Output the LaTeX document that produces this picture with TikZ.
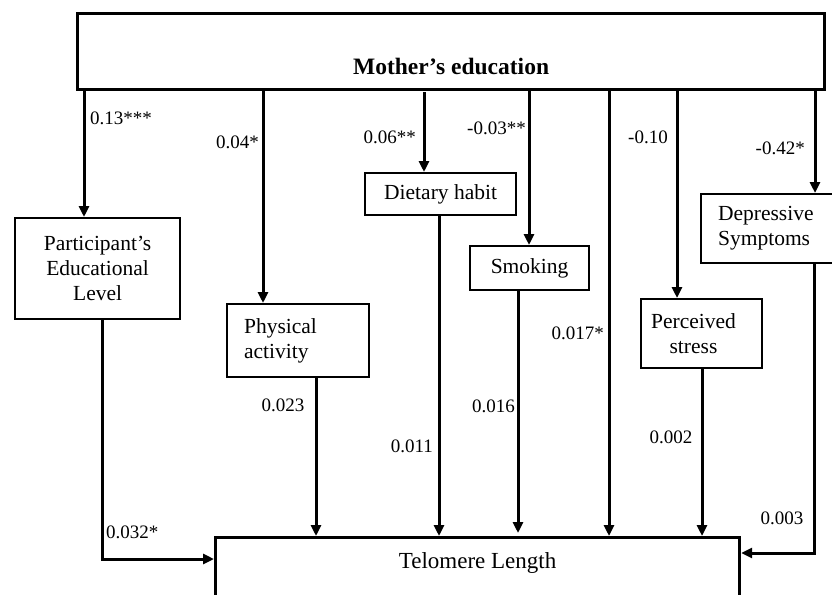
\documentclass[tikz,border=0pt]{standalone}
\usepackage{fontspec}
\setmainfont{Liberation Serif}
\usetikzlibrary{arrows.meta}
\newcommand{\linethick}{3pt}
\newcommand{\boxthick}{2.2pt}
\newcommand{\boxfont}{\fontsize{21.5}{25}\selectfont}
\newcommand{\coeffont}{\fontsize{19}{22}\selectfont}

\begin{document}
\begin{tikzpicture}[x=1pt,y=-1pt,
  box/.style={draw,line width=\boxthick,anchor=north west,inner sep=0pt,font=\boxfont,align=center},
  arr/.style={line width=\linethick,-{Triangle[length=11pt,width=10pt]}},
  coef/.style={font=\coeffont,inner sep=0pt}]
\useasboundingbox (0,0) rectangle (832,594);
\clip (0,0) rectangle (832,594);
%boxes
\node[box,line width=3.2pt,minimum width=747pt,text height=61pt,text depth=15pt,font=\fontsize{23.5}{28}\selectfont\bfseries] (me) at (76,12) {Mother's education};
\node[box,minimum width=165pt,minimum height=101pt] (pel) at (14,217) {Participant's\\Educational\\Level};
\node[box,minimum width=142pt,minimum height=73pt,text width=108pt,inner xsep=17pt,align=left] (pa) at (226,303) {Physical\\activity};
\node[box,minimum width=151pt,minimum height=42pt] (dh) at (364,172) {Dietary habit};
\node[box,minimum width=119pt,minimum height=44pt] (sm) at (469,245) {Smoking};
\node[box,minimum width=121pt,minimum height=69pt,text width=101pt,inner xsep=10pt,align=left] (ps) at (640,298) {Perceived\\\hspace*{18.5pt}stress};
\node[box,minimum width=140pt,minimum height=69pt,text width=106pt,inner xsep=17pt,align=left] (ds) at (700,193) {Depressive\\Symptoms};
\node[box,line width=3.2pt,minimum width=524pt,text height=31pt,text depth=53pt,font=\fontsize{23}{27}\selectfont] (tl) at (214,536) {Telomere Length};
%mother's education to mediators
\coordinate (m1) at (84,88);
\coordinate (m2) at (263,88);
\coordinate (m3) at (424,92);
\coordinate (m4) at (529,88);
\coordinate (m5) at (609,88);
\coordinate (m6) at (677,88);
\coordinate (m7) at (815,88);
\draw[arr] (m1) -- (m1 |- pel.north);
\draw[arr] (m2) -- (m2 |- pa.north);
\draw[arr] (m3) -- (m3 |- dh.north);
\draw[arr] (m4) -- (m4 |- sm.north);
\draw[arr] (m5) -- (m5 |- tl.north);
\draw[arr] (m6) -- (m6 |- ps.north);
\draw[arr] (m7) -- (m7 |- ds.north);
\node[coef,anchor=west] (k1) at (90,118) {0.13***};
\node[coef,anchor=east] (k2) at (259,142) {0.04*};
\node[coef,anchor=east] (k3) at (416,137) {0.06**};
\node[coef,anchor=east] (k4) at (526,128) {-0.03**};
\node[coef,anchor=east] (k5) at (604,333) {0.017*};
\node[coef,anchor=east] (k6) at (668,137) {-0.10};
\node[coef,anchor=east] (k7) at (805,148) {-0.42*};
%mediators to telomere length
\coordinate (o1) at (102,559);
\coordinate (o2) at (316,0);
\coordinate (o3) at (439,0);
\coordinate (o4) at (518,0);
\coordinate (o5) at (702,0);
\coordinate (o6) at (814,553);
\draw[arr] (pel.south -| o1) -- (o1) -- (o1 -| tl.west);
\draw[arr] (pa.south -| o2) -- (o2 |- tl.north);
\draw[arr] (dh.south -| o3) -- (o3 |- tl.north);
\draw[arr,shorten >=3pt] (sm.south -| o4) -- (o4 |- tl.north);
\draw[arr] (ps.south -| o5) -- (o5 |- tl.north);
\draw[arr] (ds.south -| o6) -- (o6) -- (o6 -| tl.east);
\node[coef,anchor=west] (k8) at (106,532) {0.032*};
\node[coef] (k9) at (283,405) {0.023};
\node[coef,anchor=east] (k10) at (433,446) {0.011};
\node[coef,anchor=east] (k11) at (515,406) {0.016};
\node[coef] (k12) at (671,437) {0.002};
\node[coef] (k13) at (782,518) {0.003};
\end{tikzpicture}
\end{document}
